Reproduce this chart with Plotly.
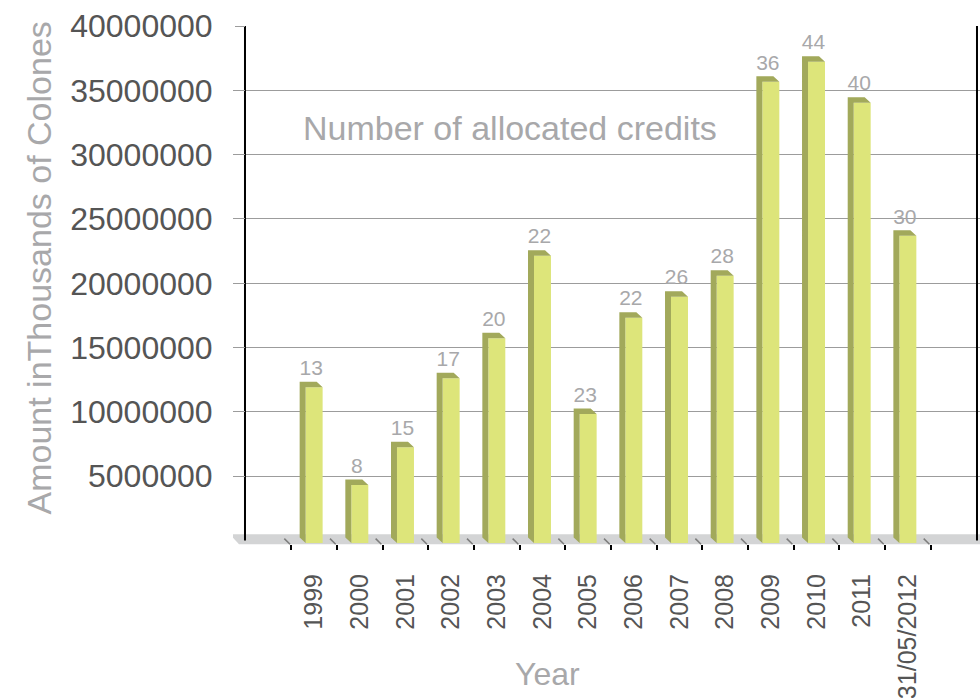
import plotly.graph_objects as go

# ---- data ----
years = ["1999", "2000", "2001", "2002", "2003", "2004", "2005", "2006",
         "2007", "2008", "2009", "2010", "2011", "31/05/2012"]
amounts = [12100000, 4510000, 7440000, 12800000, 15910000, 22330000, 10030000,
           17510000, 19150000, 20780000, 35850000, 37410000, 34220000, 23880000]
credits = [13, 8, 15, 17, 20, 22, 23, 22, 26, 28, 36, 44, 40, 30]
y_tick_vals = [5000000, 10000000, 15000000, 20000000, 25000000,
               30000000, 35000000, 40000000]

# ---- layout constants ----
FONT = "Liberation Sans, Arial, Helvetica, sans-serif"
X_RANGE = [-1.7766, 14.580]
Y_RANGE = [-730000, 40000000]
BAR_W = 0.372
DEPTH_X = -0.131        # 3D depth offset (x units)
DEPTH_Y = 427500        # 3D depth offset (y units)
BASE = -187000
X_LEFT_WALL = -1.514
X_RIGHT_WALL = 14.514

FRONT = "#dde57a"
SIDE = "#a2a95b"
FLOOR = "#d3d4d5"
GRID = "#9c9c9c"
TICKTXT = "#555555"
SOFT = "#a8a8aa"

pos = list(range(len(years)))
bounds = [p - 0.5 for p in pos] + [pos[-1] + 0.5]

fig = go.Figure()

# front faces
fig.add_trace(go.Bar(x=pos, y=amounts, base=BASE, width=BAR_W,
                     marker=dict(color=FRONT, line=dict(width=0)),
                     hoverinfo="skip"))

# side + top faces
sx, sy = [], []
for p, v in zip(pos, amounts):
    xl = p - BAR_W / 2
    xr = p + BAR_W / 2
    top = BASE + v
    sx += [xl, xl, xl + DEPTH_X, xl + DEPTH_X, xl, None]
    sy += [BASE, top, top + DEPTH_Y, BASE + DEPTH_Y, BASE, None]
    sx += [xl, xr, xr + DEPTH_X, xl + DEPTH_X, xl, None]
    sy += [top, top, top + DEPTH_Y, top + DEPTH_Y, top, None]
fig.add_trace(go.Scatter(x=sx, y=sy, mode="lines", fill="toself",
                         fillcolor=SIDE, line=dict(width=0, color=SIDE),
                         hoverinfo="skip"))

# diagonal floor ticks (on overlay axis x2)
dx, dy = [], []
for b in bounds:
    dx += [b - 0.153, b - 0.028, None]
    dy += [155000, -290000, None]
fig.add_trace(go.Scatter(x=dx, y=dy, mode="lines", xaxis="x2",
                         line=dict(color="#7c7c7c", width=1.5),
                         hoverinfo="skip"))

# walls
fig.add_trace(go.Scatter(x=[X_LEFT_WALL, X_LEFT_WALL, None, X_RIGHT_WALL, X_RIGHT_WALL],
                         y=[0, Y_RANGE[1], None, 0, Y_RANGE[1]],
                         mode="lines", line=dict(color="black", width=2),
                         hoverinfo="skip", cliponaxis=False))

# credit labels
fig.add_trace(go.Scatter(x=[p + DEPTH_X / 2 for p in pos],
                         y=[BASE + v + DEPTH_Y + 120000 for v in amounts],
                         mode="text", text=[str(c) for c in credits],
                         textposition="top center",
                         textfont=dict(family=FONT, size=21, color=SOFT),
                         cliponaxis=False, hoverinfo="skip"))

# floor
fx0b = -1.645
fx0t = -1.842
fig.add_shape(type="path", xref="x", yref="y", layer="between",
              path=f"M {fx0t},490000 L 15.2,490000 L 15.4,-288000 L {fx0b},-288000 Z",
              fillcolor=FLOOR, line=dict(width=0))

fig.update_layout(
    width=980, height=698,
    margin=dict(l=233, r=0, t=26, b=148),
    paper_bgcolor="white", plot_bgcolor="white",
    showlegend=False, barmode="overlay",
    font=dict(family=FONT),
    xaxis=dict(range=X_RANGE, tickmode="array", tickvals=pos, ticktext=years,
               tickangle=-90, ticks="", showgrid=False, zeroline=False,
               showline=False, tickfont=dict(size=25, color=TICKTXT),
               ticklabelstandoff=18),
    xaxis2=dict(range=X_RANGE, overlaying="x", anchor="y", side="bottom",
                tickmode="array", tickvals=bounds, ticks="inside", ticklen=5,
                tickwidth=2, tickcolor="black", showticklabels=False,
                showgrid=False, zeroline=False, showline=False),
    yaxis=dict(range=Y_RANGE, tickmode="array", tickvals=y_tick_vals,
               ticktext=[str(v) for v in y_tick_vals],
               anchor="free", position=(245 - 233) / 747,
               showgrid=True, gridcolor=GRID, gridwidth=1,
               ticks="outside", ticklen=10, tickcolor=GRID, tickwidth=1,
               zeroline=False, showline=False,
               tickfont=dict(size=32, color=TICKTXT), ticklabelstandoff=16),
    annotations=[
        dict(text="Number of allocated credits", xref="paper", yref="paper",
             x=(510 - 233) / 747, y=(550 - 128) / 524, showarrow=False,
             xanchor="center", yanchor="middle",
             font=dict(size=34, color=SOFT, family=FONT)),
        dict(text="Amount inThousands of Colones", xref="paper", yref="paper",
             x=(38 - 233) / 747, y=(550 - 267.5) / 524, showarrow=False,
             textangle=-90, xanchor="center", yanchor="middle",
             font=dict(size=34, color=SOFT, family=FONT)),
        dict(text="Year", xref="paper", yref="paper",
             x=(547 - 233) / 747, y=(550 - 674) / 524, showarrow=False,
             xanchor="center", yanchor="middle",
             font=dict(size=32, color=SOFT, family=FONT)),
    ],
)

fig.write_html("out.html",
               config={"displayModeBar": False},
               post_script="document.body.style.margin='0';document.body.style.padding='0';document.body.style.overflow='hidden';")
